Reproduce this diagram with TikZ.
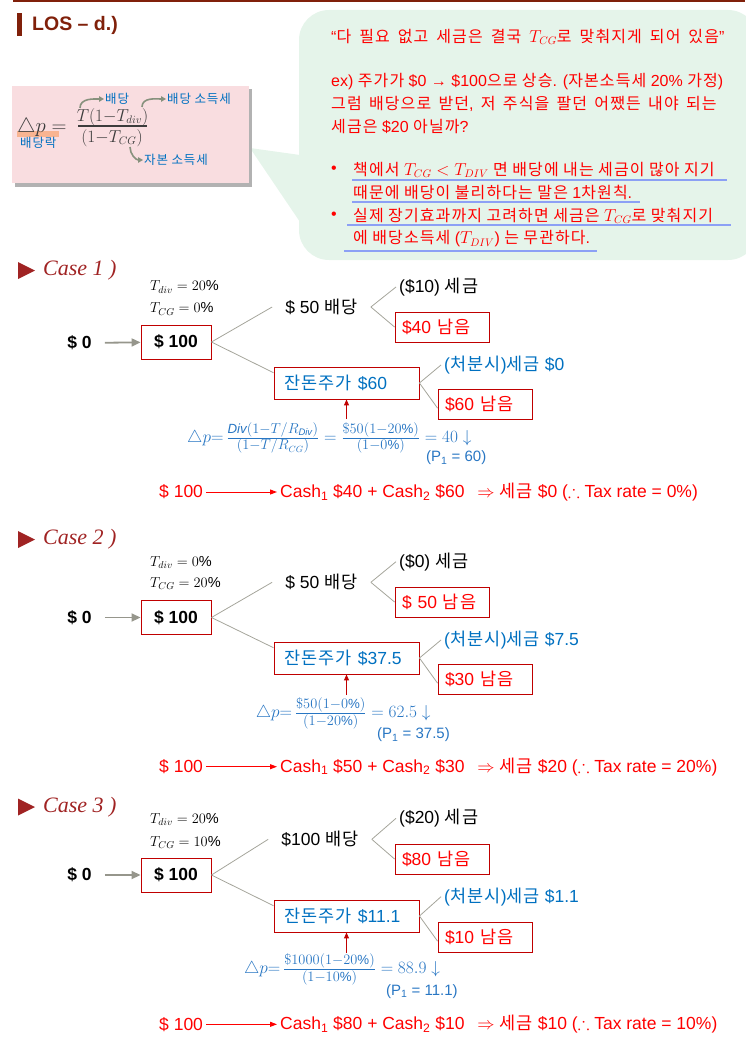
\documentclass[tikz,border=0pt]{standalone}
\usepackage{amsmath, amssymb}
\usepackage{fontspec}
\setmainfont{Liberation Sans}
\newfontfamily\krfont[LetterSpace=7]{Noto Sans CJK KR}
\newfontfamily\casefont{Liberation Serif}
\usepackage{tikz}
\usetikzlibrary{arrows.meta,calc,positioning}

% hangul syllables are set in the korean font
\XeTeXinterchartokenstate=1
\chardef\hangulclass=42
\count255="AC00
\loop
  \XeTeXcharclass\count255=\hangulclass
  \advance\count255 by 1
\ifnum\count255<"D7A4 \repeat
\XeTeXinterchartoks 0 \hangulclass={\krfont}
\XeTeXinterchartoks 4095 \hangulclass={\krfont}
\XeTeXinterchartoks \hangulclass 0={\normalfont}
\XeTeXinterchartoks \hangulclass 4095={\normalfont}

\definecolor{hdred}{RGB}{128,32,10}
\definecolor{pinkbg}{RGB}{249,221,224}
\definecolor{callgreen}{RGB}{229,244,234}
\definecolor{txtred}{RGB}{255,0,0}
\definecolor{txtblue}{RGB}{0,112,192}
\definecolor{noteblue}{RGB}{40,118,195}
\definecolor{boxred}{RGB}{192,0,0}
\definecolor{casered}{RGB}{160,35,35}
\definecolor{branchgray}{RGB}{165,165,155}
\definecolor{flowgray}{RGB}{150,150,140}
\definecolor{ulblue}{RGB}{140,160,245}
\definecolor{hlorange}{RGB}{248,180,145}
\definecolor{mathgray}{RGB}{60,60,60}
\definecolor{arrgray}{RGB}{135,145,125}

\begin{document}
\begin{tikzpicture}[x=1pt, y=-1pt, >=stealth,
  txt/.style={font=\fontsize{17.5}{21}\selectfont, inner sep=3pt},
  startbox/.style={font=\bfseries\fontsize{17.5}{21}\selectfont, draw=boxred, line width=0.9pt, minimum width=70pt, minimum height=34pt, inner sep=0pt},
  leftbox/.style={txt, draw=boxred, line width=0.9pt, text=txtred, text width=80pt, align=left, inner xsep=7pt, inner ysep=0pt, minimum height=30pt},
  stockbox/.style={leftbox, text=txtblue, text width=125pt, inner xsep=10pt, minimum height=32pt},
  divlbl/.style={txt, inner xsep=13pt},
  taxlbl/.style={txt, anchor=west},
  cglbl/.style={txt, anchor=west, text=txtblue},
  rate/.style={font=\fontsize{14.5}{16}\selectfont, anchor=west, inner sep=0pt},
  caselbl/.style={font=\casefont\itshape\fontsize{22}{25}\selectfont, text=casered, anchor=west, inner sep=0pt},
  branch/.style={draw=branchgray, line width=0.8pt},
  flow/.style={draw=flowgray, line width=1.8pt, -{Triangle[length=9pt,width=8pt]}, shorten <=10pt},
  uparr/.style={draw=boxred, line width=1pt, -{Triangle[length=6pt,width=5pt]}},
  sumarr/.style={draw=txtred, line width=1pt, -{Triangle[length=7pt,width=5pt]}},
  formula/.style={font=\fontsize{19}{22}\selectfont, text=noteblue, anchor=west, inner sep=2pt},
  pnote/.style={font=\fontsize{15}{18}\selectfont, text=noteblue, anchor=west, inner sep=3pt},
  sumtxt/.style={txt, text=txtred, anchor=west},
  call/.style={font=\fontsize{16}{19}\selectfont, text=txtred, anchor=west, inner sep=0pt},
  uline/.style={draw=ulblue, line width=2pt},
  pinkarr/.style={draw=arrgray, line width=1.6pt, -{Triangle[length=5pt,width=5.5pt]}},
  pinklbl/.style={font=\fontsize{12.5}{15}\selectfont, text=txtblue, anchor=west, inner sep=1pt},
  pinkmath/.style={font=\fontsize{16}{19}\selectfont, text=mathgray, inner sep=0pt}]
  \useasboundingbox (0,0) rectangle (745,1043);

  % title
  \draw[hdred, line width=1.5pt] (13,1) -- (745,1);
  \fill[hdred] (17,13) rectangle (22,36);
  \node[font=\bfseries\fontsize{19.5}{22}\selectfont, text=hdred, anchor=west, inner sep=0pt] (los) at (32,25) {LOS – d.)};

  % callout
  \fill[callgreen, rounded corners=30pt] (299,10) rectangle (758,260);
  \fill[callgreen] (250,148) -- (300,155) -- (300,222) -- cycle;
  \node[call] (l1) at (331,37) {\spaceskip=8pt “다 필요 없고 세금은 결국 $T_{CG}$로 맞춰지게 되어 있음”};
  \node[call] (l2) at (331,82) {ex) 주가가 \$0 → \$100으로 상승. (자본소득세 20\% 가정)};
  \node[call] (l3) at (331,104) {\spaceskip=7.3pt 그럼 배당으로 받던, 저 주식을 팔던 어쨌든 내야 되는};
  \node[call] (l4) at (331,127) {세금은 \$20 아닐까?};
  \node[call] (b1) at (331,170) {•};
  \node[call] (l5) at (353,170) {책에서 $T_{CG} < T_{DIV}$ 면 배당에 내는 세금이 많아 지기};
  \node[call] (l6) at (353,192) {때문에 배당이 불리하다는 말은 1차원칙.};
  \node[call] (b2) at (331,216) {•};
  \node[call] (l7) at (353,216) {실제 장기효과까지 고려하면 세금은 $T_{CG}$로 맞춰지기};
  \node[call] (l8) at (353,239) {에 배당소득세 ($T_{DIV}$) 는 무관하다.};
  \draw[uline] (352,180) -- (727,180);
  \draw[uline] (352,202) -- (640,202);
  \draw[uline] (347,224.5) -- (731,224.5);
  \draw[uline] (344,250.5) -- (597,250.5);

  % formula box
  \fill[black!30] (15,89) rectangle (252,187);
  \fill[pinkbg] (12,86) rectangle (249,183);
  \fill[hlorange] (17,131) rectangle (59,137);
  \node[font=\fontsize{20.5}{23}\selectfont, text=mathgray, anchor=west, inner sep=0pt] (dp) at (17,127) {$\triangle p =$};
  \node[pinkmath] (num) at (112.5,117) {$T(1{-}T_{div})$};
  \node[pinkmath] (den) at (112,138) {$(1{-}T_{CG})$};
  \draw[mathgray, line width=1.3pt] (78,126) -- (147,126);
  \node[pinklbl] (drop) at (19,143) {배당락};
  \node[pinklbl] (exdiv) at (104,99) {배당};
  \node[pinklbl] (extaxdiv) at (166,99) {배당 소득세};
  \node[pinklbl] (extaxcg) at (143,160) {자본 소득세};
  \coordinate (s1) at (80,108);
  \coordinate (s2) at (142,107);
  \coordinate (s3) at (130,147);
  \draw[pinkarr] (s1) to[out=90,in=180] (exdiv.west);
  \draw[pinkarr] (s2) to[out=90,in=180] (extaxdiv.west);
  \draw[pinkarr] (s3) to[out=-90,in=180] (extaxcg.west);

  % case 1
  \fill[casered] (18,262) -- (35,270.5) -- (18,279) -- cycle;
  \node[caselbl] (case1) at (43,270) {Case 1 )};
  \node[rate] (tdiv1) at (150,287) {$T_{div} = 20\%$};
  \node[rate] (tcg1) at (150,309) {$T_{CG} = 0\%$};
  \node[txt, font=\bfseries\fontsize{17.5}{21}\selectfont] (zero1) at (79.5,343) {\$ 0};
  \node[startbox] (hund1) at (176,342) {\$ 100};
  \node[divlbl] (div1) at (321.5,307) {\$ 50 배당};
  \node[taxlbl] (tax1) at (396,287) {(\$10) 세금};
  \node[leftbox] (left1) at (442,327) {\$40 남음};
  \node[stockbox] (rem1) at (346.5,383) {잔돈주가 \$60};
  \node[cglbl] (cg1) at (441,365) {(처분시)세금 \$0};
  \node[leftbox] (left2) at (485,404) {\$60 남음};
  \node[formula] (f1) at (185,438) {$\triangle p{=}\,\frac{\mathit{Div}(1-T/R_{\mathit{Div}})}{(1-T/R_{CG})} = \frac{\$50(1-20\%)}{(1-0\%)} = 40\downarrow$};
  \node[pnote] (p1) at (423,458) {(P\textsubscript{1} = 60)};
  \coordinate (u1) at (346.5,419);
  \draw[flow] (zero1) -- (hund1);
  \draw[branch] (hund1.east) -- (div1.west);
  \draw[branch] (hund1.east) -- (rem1.172);
  \draw[branch] (div1.east) -- (tax1.west);
  \draw[branch] (div1.east) -- (left1.west);
  \draw[branch] (rem1.east) -- (cg1.west);
  \draw[branch] (rem1.east) -- (left2.185);
  \draw[uparr] (u1) -- (rem1.south);
  \node[sumtxt] (suma1) at (156,492) {\$ 100};
  \node[sumtxt] (sumb1) at (277,492) {Cash\textsubscript{1} \$40 + Cash\textsubscript{2} \$60\hspace{8pt} $\Rightarrow$ 세금 \$0 ($\therefore$ Tax rate = 0\%)};
  \draw[sumarr] (suma1) -- (sumb1);

  % case 2
  \fill[casered] (18,531) -- (35,539.5) -- (18,548) -- cycle;
  \node[caselbl] (case2) at (43,539.5) {Case 2 )};
  \node[rate] (tdiv2) at (150,562.7) {$T_{div} = 0\%$};
  \node[rate] (tcg2) at (150,583.3) {$T_{CG} = 20\%$};
  \node[txt, font=\bfseries\fontsize{17.5}{21}\selectfont] (zero2) at (79.5,617.5) {\$ 0};
  \node[startbox] (hund2) at (176,617.5) {\$ 100};
  \node[divlbl] (div2) at (321.5,582.3) {\$ 50 배당};
  \node[taxlbl] (tax2) at (396,561.7) {(\$0) 세금};
  \node[leftbox] (left3) at (442,602) {\$ 50 남음};
  \node[stockbox] (rem2) at (346.5,658) {잔돈주가 \$37.5};
  \node[cglbl] (cg2) at (441,640) {(처분시)세금 \$7.5};
  \node[leftbox] (left4) at (485,679) {\$30 남음};
  \node[formula] (f2) at (253.6,713.3) {$\triangle p{=}\,\frac{\$50(1-0\%)}{(1-20\%)} = 62.5\downarrow$};
  \node[pnote] (p2) at (374,735) {(P\textsubscript{1} = 37.5)};
  \coordinate (u2) at (346.5,695);
  \draw[flow] (zero2) -- (hund2);
  \draw[branch] (hund2.east) -- (div2.west);
  \draw[branch] (hund2.east) -- (rem2.172);
  \draw[branch] (div2.east) -- (tax2.west);
  \draw[branch] (div2.east) -- (left3.west);
  \draw[branch] (rem2.east) -- (cg2.west);
  \draw[branch] (rem2.east) -- (left4.185);
  \draw[uparr] (u2) -- (rem2.south);
  \node[sumtxt] (suma2) at (156,766.7) {\$ 100};
  \node[sumtxt] (sumb2) at (277,766.7) {Cash\textsubscript{1} \$50 + Cash\textsubscript{2} \$30\hspace{8pt} $\Rightarrow$ 세금 \$20 ($\therefore$ Tax rate = 20\%)};
  \draw[sumarr] (suma2) -- (sumb2);

  % case 3
  \fill[casered] (18,798.5) -- (35,807) -- (18,815.5) -- cycle;
  \node[caselbl] (case3) at (43,807) {Case 3 )};
  \node[rate] (tdiv3) at (150,819.3) {$T_{div} = 20\%$};
  \node[rate] (tcg3) at (150,842.3) {$T_{CG} = 10\%$};
  \node[txt, font=\bfseries\fontsize{17.5}{21}\selectfont] (zero3) at (79.5,875) {\$ 0};
  \node[startbox] (hund3) at (176,875) {\$ 100};
  \node[divlbl] (div3) at (320,839.3) {\$100 배당};
  \node[taxlbl] (tax3) at (396,818.3) {(\$20) 세금};
  \node[leftbox] (left5) at (442,859) {\$80 남음};
  \node[stockbox] (rem3) at (346.5,916) {잔돈주가 \$11.1};
  \node[cglbl] (cg3) at (441,896.7) {(처분시)세금 \$1.1};
  \node[leftbox] (left6) at (485,937) {\$10 남음};
  \node[formula] (f3) at (241.8,969.3) {$\triangle p{=}\,\frac{\$1000(1-20\%)}{(1-10\%)} = 88.9\downarrow$};
  \node[pnote] (p3) at (383,991.7) {(P\textsubscript{1} = 11.1)};
  \coordinate (u3) at (346.5,953);
  \draw[flow] (zero3) -- (hund3);
  \draw[branch] (hund3.east) -- (div3.west);
  \draw[branch] (hund3.east) -- (rem3.172);
  \draw[branch] (div3.east) -- (tax3.west);
  \draw[branch] (div3.east) -- (left5.west);
  \draw[branch] (rem3.east) -- (cg3.west);
  \draw[branch] (rem3.east) -- (left6.185);
  \draw[uparr] (u3) -- (rem3.south);
  \node[sumtxt] (suma3) at (156,1024.3) {\$ 100};
  \node[sumtxt] (sumb3) at (277,1024.3) {Cash\textsubscript{1} \$80 + Cash\textsubscript{2} \$10\hspace{8pt} $\Rightarrow$ 세금 \$10 ($\therefore$ Tax rate = 10\%)};
  \draw[sumarr] (suma3) -- (sumb3);
\end{tikzpicture}
\end{document}
